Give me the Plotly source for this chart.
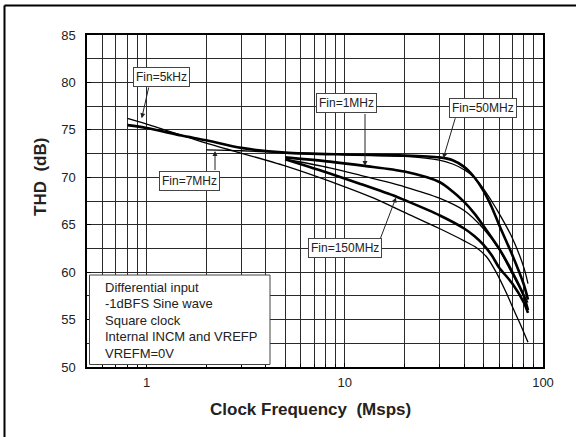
import plotly.graph_objects as go
import numpy as np

# ---- data ----
fin5k_x = [0.8, 1, 2, 5, 10, 14, 20, 30, 40, 46, 52, 58, 65, 72, 78, 84]
fin5k_y = [76.2, 75.6, 73.6, 71.2, 69.0, 67.8, 66.3, 64.6, 63.3, 62.6, 61.6, 60.0, 57.9, 55.8, 54.2, 52.6]

fin50m_x = [0.8, 1, 1.5, 2, 3, 5, 10, 20, 30, 35, 40, 45, 50, 55, 60, 70, 80, 84]
fin50m_y = [75.5, 75.2, 74.4, 73.9, 73.1, 72.6, 72.4, 72.3, 72.1, 71.8, 71.1, 70.0, 68.6, 66.9, 65.0, 61.8, 58.7, 57.1]

fin7m_x = [2, 3, 5, 10, 20, 30, 35, 40, 45, 50, 55, 60, 70, 80, 84]
fin7m_y = [72.9, 72.8, 72.6, 72.4, 72.2, 71.8, 71.4, 70.8, 70.0, 68.8, 67.5, 66.2, 63.6, 60.5, 58.8]

fin1m_x = [5, 8.4, 12.6, 20, 30, 35, 40, 45, 50, 60, 70, 80, 84]
fin1m_y = [72.1, 71.65, 71.2, 70.6, 69.5, 68.5, 67.4, 66.2, 64.9, 62.5, 60.0, 57.5, 56.0]

finx_x = [5, 8.4, 12, 20, 30, 40, 50, 60, 70, 80, 84]
finx_y = [71.9, 71.0, 70.2, 69.0, 67.8, 66.5, 64.6, 62.4, 59.8, 57.6, 56.8]

fin150m_x = [5, 8.4, 12, 18, 20, 30, 40, 45, 50, 55, 60, 70, 80, 84]
fin150m_y = [71.9, 70.4, 69.3, 68.0, 67.6, 66.0, 64.6, 63.8, 62.9, 61.8, 60.5, 58.8, 56.8, 55.7]

x_ticks = [1, 10, 100]
y_ticks = [50, 55, 60, 65, 70, 75, 80, 85]

info_lines = ["Differential input", "-1dBFS Sine wave", "Square clock",
              "Internal INCM and VREFP", "VREFM=0V"]

FONT = "Liberation Sans, Arial, sans-serif"

fig = go.Figure()
series = [
    (fin5k_x, fin5k_y, 1.3),
    (fin50m_x, fin50m_y, 2.6),
    (fin7m_x, fin7m_y, 1.3),
    (fin1m_x, fin1m_y, 2.6),
    (finx_x, finx_y, 1.3),
    (fin150m_x, fin150m_y, 2.6),
]
for xs, ys, w in series:
    fig.add_trace(go.Scatter(x=xs, y=ys, mode="lines",
                             line=dict(color="black", width=w, shape="spline", smoothing=0.8),
                             showlegend=False, hoverinfo="skip"))

GRID = "#2a2a2a"
fig.update_xaxes(type="log", range=[np.log10(0.5), 2.0],
                 tickvals=x_ticks, ticktext=[str(v) for v in x_ticks],
                 showgrid=True, gridcolor=GRID, gridwidth=1,
                 minor=dict(dtick="D1", showgrid=True, gridcolor=GRID, gridwidth=1,
                            ticks="inside", ticklen=3, tickcolor="black"),
                 ticks="inside", ticklen=4, tickcolor="black", ticklabelstandoff=3,
                 showline=True, linecolor="black", linewidth=1.5, mirror=True,
                 tickfont=dict(family=FONT, size=13, color="#222"),
                 zeroline=False)
fig.update_yaxes(range=[50, 85], tickvals=y_ticks,
                 showgrid=True, gridcolor=GRID, gridwidth=1,
                 minor=dict(dtick=2.5, showgrid=True, gridcolor=GRID, gridwidth=1),
                 ticks="inside", ticklen=4, tickcolor="black", ticklabelstandoff=7,
                 showline=True, linecolor="black", linewidth=1.5, mirror=True,
                 tickfont=dict(family=FONT, size=13, color="#222"),
                 zeroline=False)

W, H = 576, 437
L, R, T, B = 87, 33, 35, 70
pw, ph = W - L - R, H - T - B


def px2paper(px, py):
    return (px - L) / pw, (H - B - py) / ph


ann = []
# axis titles
xt, yt = px2paper(310, 409)
ann.append(dict(x=xt, y=yt, xref="paper", yref="paper", text="<b>Clock Frequency &nbsp;(Msps)</b>",
                showarrow=False, xanchor="center", yanchor="middle",
                font=dict(family=FONT, size=17, color="#222")))
xt, yt = px2paper(40, 177)
ann.append(dict(x=xt, y=yt, xref="paper", yref="paper", text="<b>THD &nbsp;(dB)</b>", textangle=-90,
                showarrow=False, xanchor="center", yanchor="middle",
                font=dict(family=FONT, size=17, color="#222")))

# labels with boxes (center px positions)
labels = [("Fin=5kHz", 161.5, 77), ("Fin=7MHz", 189.5, 181), ("Fin=1MHz", 346.5, 103),
          ("Fin=50MHz", 483, 107.5), ("Fin=150MHz", 345, 248)]
for txt, cx, cy in labels:
    xp, yp = px2paper(cx, cy)
    ann.append(dict(x=xp, y=yp, xref="paper", yref="paper", text=txt, showarrow=False,
                    xanchor="center", yanchor="middle",
                    font=dict(family=FONT, size=12, color="#222"), bgcolor="white",
                    bordercolor="#444", borderwidth=1, borderpad=2))

# arrows: (tail px, tip px)
arrows = [((149, 86), (141.7, 118.3)), ((215, 171.5), (215, 151)),
          ((365, 112.5), (365, 166)), ((455.7, 116.7), (443.3, 158.3)),
          ((380, 239.5), (396, 197.5))]
for (tx, ty), (hx, hy) in arrows:
    xp, yp = px2paper(hx, hy)
    ann.append(dict(x=xp, y=yp, xref="paper", yref="paper", text="", showarrow=True,
                    ax=tx - hx, ay=ty - hy, arrowhead=2, arrowsize=1, arrowwidth=1,
                    arrowcolor="#222", standoff=0))

# info box
x0, y0 = px2paper(89.5, 364.5)
x1, y1 = px2paper(270, 275)
shapes = [dict(type="rect", xref="paper", yref="paper", x0=x0, y0=y0, x1=x1, y1=y1,
               fillcolor="white", line=dict(color="#444", width=1), layer="above")]
for i, t in enumerate(info_lines):
    xp, yp = px2paper(102.5, 287.3 + i * 16.5)
    ann.append(dict(x=xp, y=yp, xref="paper", yref="paper", text=t, showarrow=False,
                    xanchor="left", yanchor="middle",
                    font=dict(family=FONT, size=13, color="#222")))

# outer frame (top and left edges visible)
fx0, fy0 = px2paper(4.5, 437)
fx1, fy1 = px2paper(600, 5.5)
shapes.append(dict(type="line", xref="paper", yref="paper", x0=fx0, y0=fy1, x1=fx1, y1=fy1,
                   line=dict(color="black", width=2)))
shapes.append(dict(type="line", xref="paper", yref="paper", x0=fx0, y0=fy0 - 0.1, x1=fx0, y1=fy1,
                   line=dict(color="black", width=2)))

fig.update_layout(width=W, height=H, margin=dict(l=L, r=R, t=T, b=B),
                  paper_bgcolor="white", plot_bgcolor="white",
                  annotations=ann, shapes=shapes,
                  font=dict(family=FONT, size=12, color="black"))

fig.write_html("out.html")
